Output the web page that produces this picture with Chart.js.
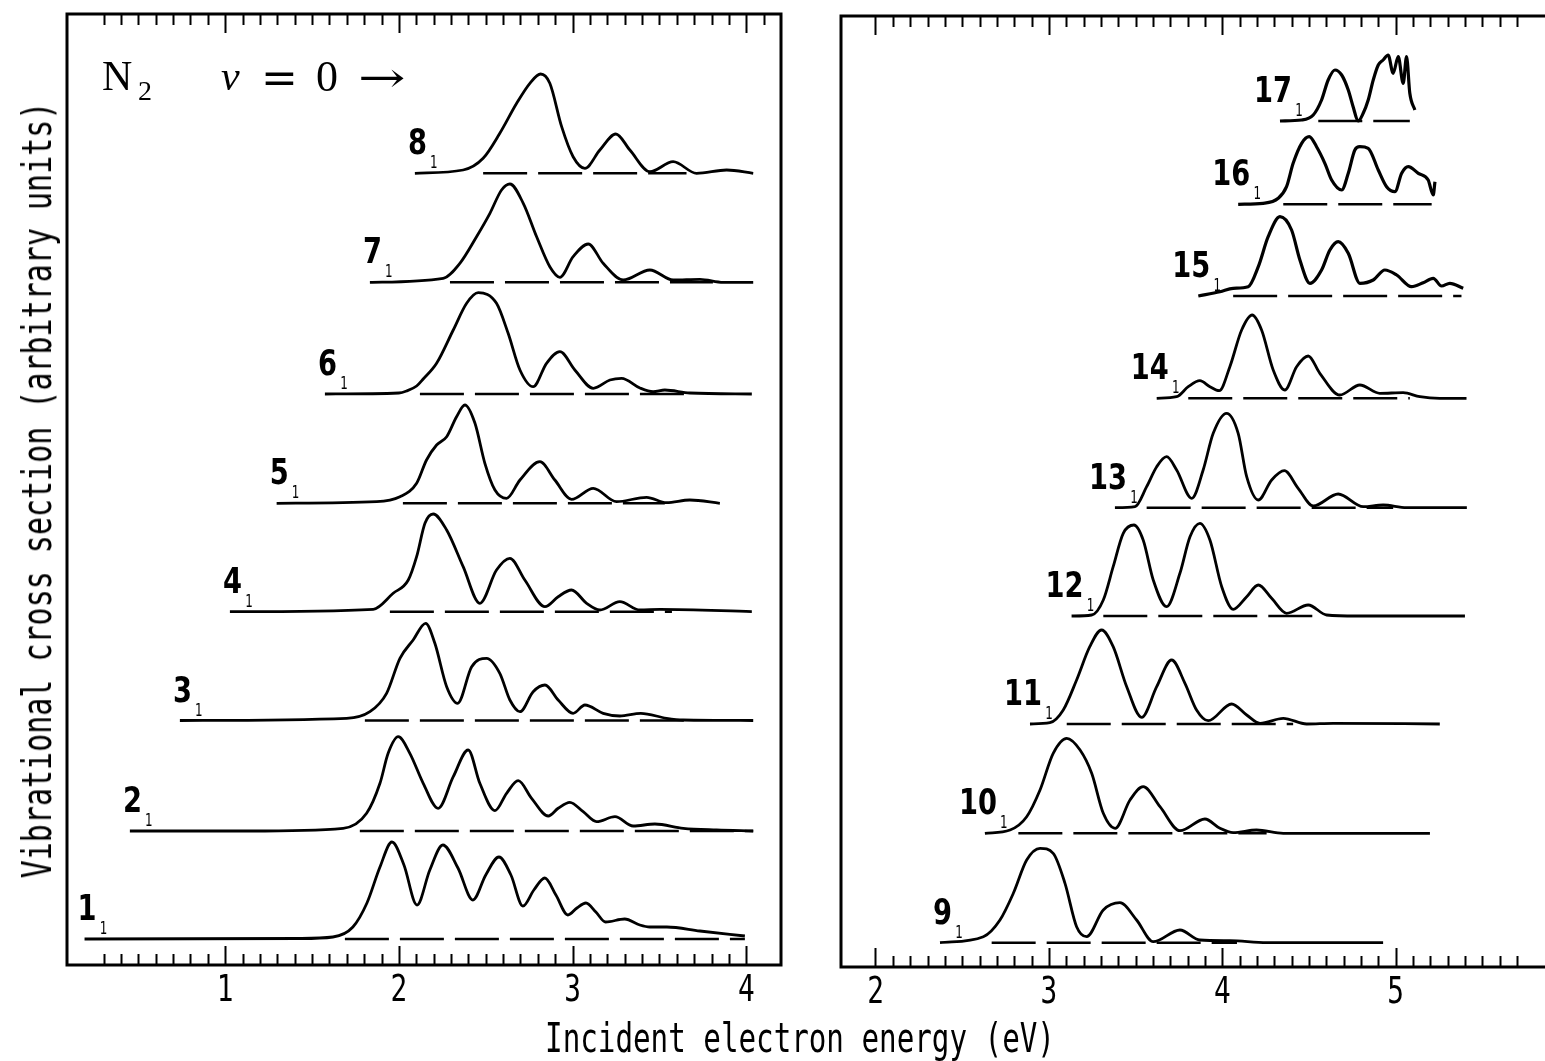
<!DOCTYPE html>
<html>
<head>
<meta charset="utf-8">
<script src="https://cdn.jsdelivr.net/npm/chart.js@4.4.1/dist/chart.umd.min.js"></script>
<style>
html, body { margin: 0; padding: 0; background: #fff; }
#page { position: relative; width: 1545px; height: 1061px; overflow: hidden; background: #fff; }
#leftBox { position: absolute; left: 0; top: 0; width: 800px; height: 1061px; }
#rightBox { position: absolute; left: 800px; top: 0; width: 745px; height: 1061px; }
.axisTitle { position: absolute; font-family: "DejaVu Sans Mono", monospace; font-size: 40px; color: #000; white-space: nowrap; }
#xTitle { left: 800px; top: 1015px; transform: translateX(-50%) scaleX(0.73); }
#yTitle { left: 37px; top: 490px; transform: translate(-50%, -50%) rotate(-90deg) scaleX(0.75); }
</style>
</head>
<body>
<div id="page">
  <div id="leftBox"><canvas id="leftChart" width="800" height="1061"></canvas></div>
  <div id="rightBox"><canvas id="rightChart" width="745" height="1061"></canvas></div>
  <div class="axisTitle" id="xTitle">Incident electron energy (eV)</div>
  <div class="axisTitle" id="yTitle">Vibrational cross section (arbitrary units)</div>
</div>
<script>
// final vibrational level of each trace (v = 0 -> n)
const leftNames = ['1', '2', '3', '4', '5', '6', '7', '8'];
const rightNames = ['9', '10', '11', '12', '13', '14', '15', '16', '17'];

// vertical offset of each trace's zero line (arbitrary units)
const leftOffsets = [0.26, 1.34, 2.445, 3.533, 4.617, 5.71, 6.827, 7.917];
const rightOffsets = [0.243, 1.337, 2.43, 3.51, 4.593, 5.687, 6.71, 7.627, 8.46];

// extent of the dashed zero line under each trace (eV)
const leftDashFrom = [1.689, 1.775, 1.804, 1.948, 2.023, 2.121, 2.294, 2.485];
const leftDashTo = [3.992, 4.04, 3.658, 3.572, 3.531, 3.675, 3.808, 3.656];
const rightDashFrom = [2.670, 2.824, 3.103, 3.314, 3.564, 3.804, 4.063, 4.352, 4.554];
const rightDashTo = [4.085, 4.256, 4.409, 4.583, 4.986, 5.082, 5.380, 5.208, 5.082];

// energies (eV) and cross sections (arb. units above the zero line)
const energy1 = [0.19, 1.43, 1.62, 1.735, 1.816, 1.891, 1.96, 2.029, 2.104, 2.178, 2.253, 2.34, 2.426, 2.50, 2.576, 2.645, 2.714, 2.777, 2.84, 2.904, 2.973, 3.025, 3.077, 3.134, 3.19, 3.30, 3.387, 3.445, 3.543, 3.733, 3.992];
const signal1 = [0, 0.005, 0.02, 0.12, 0.36, 0.72, 0.97, 0.74, 0.34, 0.69, 0.94, 0.71, 0.39, 0.64, 0.82, 0.64, 0.33, 0.49, 0.61, 0.44, 0.24, 0.31, 0.36, 0.27, 0.17, 0.20, 0.14, 0.12, 0.12, 0.08, 0.03];

const energy2 = [0.451, 1.142, 1.679, 1.814, 1.891, 1.938, 1.996, 2.063, 2.140, 2.226, 2.313, 2.399, 2.466, 2.553, 2.620, 2.687, 2.764, 2.860, 2.917, 2.984, 3.061, 3.138, 3.244, 3.349, 3.474, 3.637, 3.829, 4.04];
const signal2 = [0, 0, 0.027, 0.177, 0.477, 0.777, 0.943, 0.777, 0.477, 0.227, 0.543, 0.81, 0.477, 0.203, 0.377, 0.503, 0.327, 0.15, 0.227, 0.287, 0.193, 0.093, 0.143, 0.05, 0.07, 0.027, 0.01, 0];

const energy3 = [0.739, 1.699, 1.833, 1.929, 2.006, 2.082, 2.154, 2.207, 2.275, 2.338, 2.419, 2.505, 2.581, 2.639, 2.697, 2.773, 2.841, 2.917, 3.003, 3.071, 3.176, 3.272, 3.393, 3.541, 3.637, 4.04];
const signal3 = [0, 0.022, 0.088, 0.272, 0.622, 0.805, 0.972, 0.772, 0.338, 0.172, 0.538, 0.622, 0.472, 0.205, 0.088, 0.288, 0.355, 0.205, 0.072, 0.155, 0.072, 0.045, 0.072, 0.022, 0.005, 0];

const energy4 = [1.027, 1.852, 1.967, 2.054, 2.102, 2.150, 2.197, 2.275, 2.370, 2.466, 2.562, 2.639, 2.725, 2.841, 2.917, 2.994, 3.081, 3.157, 3.272, 3.387, 3.503, 4.032];
const signal4 = [0, 0.024, 0.184, 0.317, 0.55, 0.884, 0.977, 0.817, 0.45, 0.084, 0.417, 0.534, 0.317, 0.05, 0.15, 0.217, 0.084, 0.017, 0.10, 0.017, 0.024, 0];

const energy5 = [1.296, 1.872, 2.006, 2.102, 2.159, 2.217, 2.275, 2.332, 2.380, 2.438, 2.495, 2.553, 2.620, 2.697, 2.812, 2.898, 2.994, 3.119, 3.253, 3.426, 3.541, 3.675, 3.848];
const signal5 = [0, 0.016, 0.066, 0.2, 0.433, 0.583, 0.666, 0.866, 0.983, 0.80, 0.40, 0.133, 0.05, 0.233, 0.416, 0.233, 0.04, 0.15, 0.016, 0.06, 0.006, 0.033, 0];

const energy6 = [1.574, 2.000, 2.044, 2.102, 2.14, 2.217, 2.313, 2.390, 2.457, 2.562, 2.629, 2.697, 2.773, 2.850, 2.927, 3.013, 3.119, 3.215, 3.282, 3.388, 3.464, 3.531, 3.675, 4.032];
const signal6 = [0, 0.01, 0.03, 0.08, 0.15, 0.307, 0.64, 0.907, 1.013, 0.907, 0.607, 0.24, 0.073, 0.307, 0.423, 0.24, 0.057, 0.14, 0.157, 0.06, 0.023, 0.04, 0.01, 0];

const energy7 = [1.833, 2.255, 2.351, 2.447, 2.524, 2.591, 2.639, 2.716, 2.793, 2.869, 2.927, 3.003, 3.090, 3.176, 3.291, 3.445, 3.579, 3.733, 3.867, 4.040];
const signal7 = [0, 0.04, 0.19, 0.456, 0.69, 0.923, 0.983, 0.79, 0.456, 0.156, 0.05, 0.256, 0.383, 0.19, 0.023, 0.123, 0.023, 0.03, 0, 0];

const energy8 = [2.092, 2.370, 2.485, 2.581, 2.678, 2.754, 2.816, 2.869, 2.937, 3.003, 3.071, 3.157, 3.249, 3.330, 3.445, 3.579, 3.714, 3.887, 4.040];
const signal8 = [0, 0.033, 0.15, 0.40, 0.70, 0.90, 0.993, 0.90, 0.466, 0.166, 0.05, 0.233, 0.393, 0.233, 0.016, 0.116, 0, 0.033, 0];

const energy9 = [2.372, 2.622, 2.718, 2.795, 2.872, 2.949, 3.025, 3.093, 3.160, 3.218, 3.314, 3.410, 3.506, 3.602, 3.756, 3.871, 4.044, 4.256, 4.928];
const signal9 = [0, 0.06, 0.227, 0.494, 0.827, 0.944, 0.894, 0.594, 0.16, 0.06, 0.327, 0.40, 0.227, 0.01, 0.127, 0.027, 0.02, 0, 0];

const energy10 = [2.631, 2.776, 2.872, 2.949, 3.025, 3.103, 3.180, 3.247, 3.314, 3.382, 3.468, 3.544, 3.641, 3.756, 3.900, 3.987, 4.063, 4.198, 4.352, 5.198];
const signal10 = [0, 0.033, 0.166, 0.433, 0.80, 0.95, 0.833, 0.60, 0.20, 0.05, 0.333, 0.466, 0.266, 0.026, 0.143, 0.05, 0.006, 0.033, 0, 0];

const energy11 = [2.891, 3.006, 3.083, 3.160, 3.236, 3.304, 3.371, 3.449, 3.535, 3.622, 3.708, 3.785, 3.852, 3.919, 4.054, 4.141, 4.218, 4.352, 4.487, 4.640, 5.255];
const signal11 = [0, 0.013, 0.14, 0.44, 0.773, 0.94, 0.773, 0.373, 0.067, 0.373, 0.64, 0.407, 0.14, 0.033, 0.20, 0.09, 0.007, 0.057, 0, 0.007, 0];

const energy12 = [3.131, 3.247, 3.314, 3.371, 3.429, 3.491, 3.544, 3.602, 3.679, 3.756, 3.814, 3.871, 3.929, 3.997, 4.063, 4.141, 4.208, 4.285, 4.371, 4.496, 4.602, 4.775, 5.400];
const signal12 = [0, 0.01, 0.16, 0.493, 0.827, 0.91, 0.76, 0.36, 0.093, 0.427, 0.793, 0.927, 0.76, 0.293, 0.067, 0.193, 0.31, 0.177, 0.027, 0.11, 0.01, 0, 0];

const energy13 = [3.381, 3.497, 3.564, 3.622, 3.679, 3.737, 3.824, 3.890, 3.948, 4.025, 4.092, 4.141, 4.208, 4.285, 4.358, 4.438, 4.525, 4.669, 4.813, 4.928, 5.063, 5.411];
const signal13 = [0, 0.01, 0.21, 0.41, 0.51, 0.377, 0.094, 0.377, 0.744, 0.944, 0.744, 0.31, 0.077, 0.277, 0.37, 0.194, 0.017, 0.137, 0.01, 0.027, 0, 0];

const energy14 = [3.622, 3.737, 3.804, 3.871, 3.929, 3.983, 4.044, 4.112, 4.173, 4.227, 4.294, 4.361, 4.429, 4.496, 4.563, 4.678, 4.794, 4.909, 5.044, 5.140, 5.255, 5.409];
const signal14 = [0, 0.016, 0.116, 0.176, 0.116, 0.076, 0.316, 0.683, 0.833, 0.683, 0.283, 0.083, 0.316, 0.423, 0.25, 0.033, 0.133, 0.05, 0.056, 0.016, 0, 0];

const energy15 = [3.862, 3.987, 4.063, 4.150, 4.208, 4.265, 4.333, 4.400, 4.448, 4.506, 4.573, 4.621, 4.669, 4.727, 4.794, 4.871, 4.938, 5.006, 5.092, 5.159, 5.217, 5.265, 5.313, 5.390];
const signal15 = [0, 0.043, 0.077, 0.093, 0.293, 0.593, 0.793, 0.66, 0.36, 0.127, 0.26, 0.46, 0.543, 0.427, 0.127, 0.16, 0.26, 0.21, 0.093, 0.133, 0.177, 0.10, 0.127, 0.077];

const energy16 = [4.092, 4.236, 4.323, 4.371, 4.409, 4.458, 4.502, 4.544, 4.592, 4.631, 4.689, 4.727, 4.765, 4.794, 4.842, 4.900, 4.948, 4.996, 5.035, 5.073, 5.131, 5.188, 5.217, 5.227];
const signal16 = [0, 0.01, 0.06, 0.176, 0.41, 0.61, 0.676, 0.576, 0.41, 0.243, 0.143, 0.31, 0.543, 0.576, 0.56, 0.343, 0.176, 0.126, 0.31, 0.376, 0.31, 0.243, 0.093, 0.226];

const energy17 = [4.333, 4.458, 4.525, 4.573, 4.611, 4.650, 4.689, 4.727, 4.755, 4.784, 4.813, 4.842, 4.871, 4.900, 4.928, 4.957, 4.986, 5.015, 5.044, 5.063, 5.082, 5.111];
const signal17 = [0, 0.01, 0.06, 0.21, 0.41, 0.51, 0.46, 0.31, 0.143, 0, 0.077, 0.21, 0.41, 0.56, 0.61, 0.66, 0.477, 0.643, 0.377, 0.643, 0.277, 0.11];

// axis tick labels
const leftTickLabels = [1, 2, 3, 4];
const rightTickLabels = [2, 3, 4, 5];

const leftEnergies = [energy1, energy2, energy3, energy4, energy5, energy6, energy7, energy8];
const leftSignals = [signal1, signal2, signal3, signal4, signal5, signal6, signal7, signal8];
const rightEnergies = [energy9, energy10, energy11, energy12, energy13, energy14, energy15, energy16, energy17];
const rightSignals = [signal9, signal10, signal11, signal12, signal13, signal14, signal15, signal16, signal17];

function buildDatasets(names, offsets, energies, signals, dashFrom, dashTo) {
    const sets = [];
    names.forEach((name, i) => {
        sets.push({
            label: name + '1',
            data: energies[i].map((e, k) => ({ x: e, y: offsets[i] + signals[i][k] })),
            borderColor: '#000',
            borderWidth: Number(name) >= 15 ? 3.2 : 2.8,
            pointRadius: 0,
            cubicInterpolationMode: 'monotone',
            fill: false
        });
        sets.push({
            label: name + '1 zero',
            data: [{ x: dashFrom[i], y: offsets[i] }, { x: dashTo[i], y: offsets[i] }],
            borderColor: '#000',
            borderWidth: 2.4,
            borderDash: [44, 11],
            pointRadius: 0,
            fill: false
        });
    });
    return sets;
}

function squeezedText(ctx, text, x, y, font, sx, align) {
    ctx.save();
    ctx.font = font;
    ctx.translate(x, y);
    ctx.scale(sx, 1);
    ctx.textAlign = align;
    ctx.textBaseline = 'alphabetic';
    ctx.fillText(text, 0, 0);
    ctx.restore();
}

function panelDecor(cfg) {
    return {
        id: 'panelDecor',
        afterDraw(chart) {
            const ctx = chart.ctx;
            const a = chart.chartArea;
            const xs = chart.scales.x;
            const ys = chart.scales.y;
            ctx.save();
            ctx.fillStyle = '#000';
            ctx.strokeStyle = '#000';

            // frame
            ctx.lineWidth = 3;
            ctx.beginPath();
            if (cfg.closed) {
                ctx.rect(a.left, a.top, a.right - a.left, a.bottom - a.top);
            } else {
                ctx.moveTo(a.right + 2, a.top);
                ctx.lineTo(a.left, a.top);
                ctx.lineTo(a.left, a.bottom);
                ctx.lineTo(a.right + 2, a.bottom);
            }
            ctx.stroke();

            // inward ticks every 0.1 eV, longer at whole eV
            ctx.lineWidth = 2;
            ctx.beginPath();
            for (let i = cfg.bottomTicks[0]; i <= cfg.bottomTicks[1]; i++) {
                const px = Math.round(xs.getPixelForValue(i / 10)) + 0.5;
                const len = i % 10 === 0 ? 19 : 11;
                ctx.moveTo(px, a.bottom);
                ctx.lineTo(px, a.bottom - len);
            }
            for (let i = cfg.topTicks[0]; i <= cfg.topTicks[1]; i++) {
                const px = Math.round(xs.getPixelForValue(i / 10)) + 0.5;
                const len = i % 10 === 0 ? 19 : 11;
                ctx.moveTo(px, a.top);
                ctx.lineTo(px, a.top + len);
            }
            ctx.stroke();

            // tick labels
            cfg.tickLabels.forEach(v => {
                squeezedText(ctx, String(v), xs.getPixelForValue(v), a.bottom + 36,
                    '37px "DejaVu Sans Mono", monospace', 0.75, 'center');
            });

            // trace labels n_1
            cfg.names.forEach((name, i) => {
                const sx = xs.getPixelForValue(cfg.energies[i][0]);
                const by = ys.getPixelForValue(cfg.offsets[i]);
                squeezedText(ctx, name, sx + 12, by - 19, 'bold 35px "DejaVu Sans", sans-serif', 0.78, 'right');
                squeezedText(ctx, '1', sx + 19, by - 5, '17px "DejaVu Sans", sans-serif', 0.7, 'center');
            });

            if (cfg.heading) {
                ctx.textAlign = 'left';
                ctx.textBaseline = 'alphabetic';
                ctx.font = '42px "Liberation Serif", serif';
                ctx.fillText('N', 102, 90);
                ctx.font = '28px "Liberation Serif", serif';
                ctx.fillText('2', 138, 100);
                ctx.font = 'italic 42px "Liberation Serif", serif';
                ctx.fillText('v', 221, 90);
                squeezedText(ctx, '=', 261, 93, '44px "DejaVu Serif", serif', 1.0, 'left');
                ctx.font = '44px "Liberation Serif", serif';
                ctx.fillText('0', 316, 91);
                squeezedText(ctx, '\u2192', 358, 92, '42px "DejaVu Serif", serif', 1.35, 'left');
            }
            ctx.restore();
        }
    };
}

function makePanel(canvasId, names, offsets, energies, signals, dashFrom, dashTo, layout, decor) {
    const ctx = document.getElementById(canvasId);
    return new Chart(ctx, {
        type: 'line',
        data: { datasets: buildDatasets(names, offsets, energies, signals, dashFrom, dashTo) },
        options: {
            responsive: false,
            animation: false,
            events: [],
            layout: { padding: layout.padding },
            plugins: { legend: { display: false }, tooltip: { enabled: false } },
            scales: {
                x: {
                    type: 'linear',
                    min: layout.xMin,
                    max: layout.xMax,
                    ticks: { display: false },
                    grid: { display: false, drawTicks: false },
                    border: { display: false },
                    afterFit(scale) { scale.height = layout.axisHeight; }
                },
                y: {
                    type: 'linear',
                    min: 0,
                    max: layout.yMax,
                    display: false
                }
            }
        },
        plugins: [panelDecor(Object.assign({ names, offsets, energies }, decor))]
    });
}

makePanel('leftChart', leftNames, leftOffsets, leftEnergies, leftSignals, leftDashFrom, leftDashTo,
    { padding: { left: 67, right: 19, top: 14, bottom: 0 }, xMin: 0.089, xMax: 4.2, yMax: 9.51, axisHeight: 96 },
    { closed: true, bottomTicks: [3, 40], topTicks: [3, 41], tickLabels: leftTickLabels, heading: true });

makePanel('rightChart', rightNames, rightOffsets, rightEnergies, rightSignals, rightDashFrom, rightDashTo,
    { padding: { left: 41, right: 1, top: 16, bottom: 0 }, xMin: 1.801, xMax: 5.856, yMax: 9.51, axisHeight: 94 },
    { closed: false, bottomTicks: [20, 57], topTicks: [20, 57], tickLabels: rightTickLabels, heading: false });
</script>
</body>
</html>
